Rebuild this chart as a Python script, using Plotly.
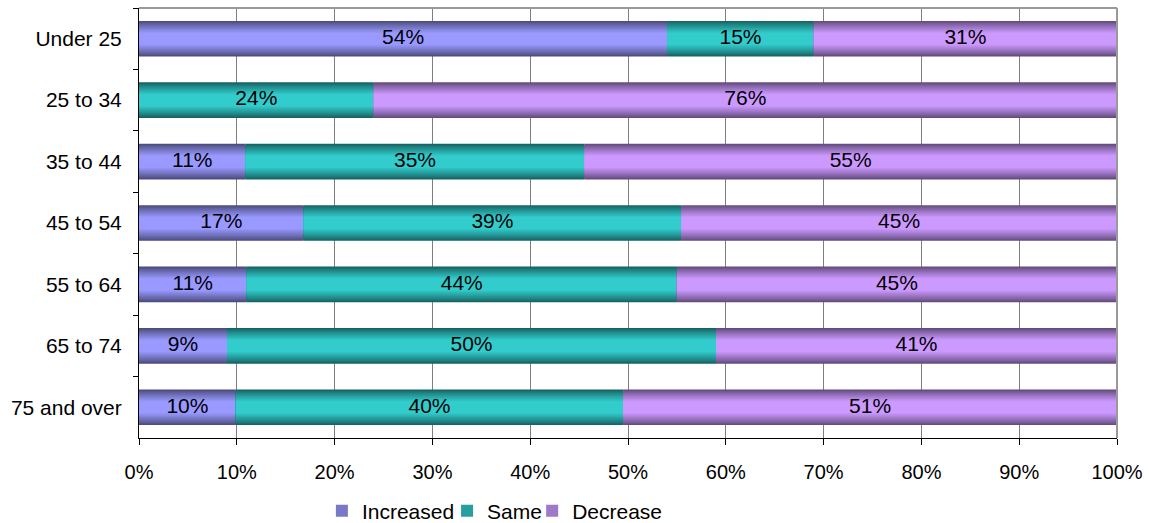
import plotly.graph_objects as go

# Survey responses by age group (percent of respondents)
age_groups = ["Under 25", "25 to 34", "35 to 44", "45 to 54", "55 to 64", "65 to 74", "75 and over"]
increased = [54, 0, 11, 17, 11, 9, 10]
same = [15, 24, 35, 39, 44, 50, 40]
decrease = [31, 76, 55, 45, 45, 41, 51]

series = [
    ("Increased", increased, "#4b4b7d", "#9999ff"),
    ("Same", same, "#176363", "#33cccc"),
    ("Decrease", decrease, "#634b7d", "#cc99ff"),
]
legend_ids = ["legend", "legend2", "legend3"]
legend_x = [0.187, 0.315, 0.402]

FONT = "Liberation Sans, Arial, sans-serif"
BAR_W = 0.58        # bar thickness in category units
CORE = 0.34         # fraction of thickness kept at the light colour
LAYERS = 14         # number of shading bands


def hex_to_rgb(h):
    h = h.lstrip("#")
    return tuple(int(h[i:i + 2], 16) for i in (0, 2, 4))


def mix(c0, c1, t):
    a, b = hex_to_rgb(c0), hex_to_rgb(c1)
    return "rgb(%d,%d,%d)" % tuple(round(a[i] + (b[i] - a[i]) * t) for i in range(3))


# 100% stacking: each row is normalised by its own total
totals = [sum(vals) for vals in zip(increased, same, decrease)]
fracs = {name: [v / t for v, t in zip(vals, totals)] for name, vals, _, _ in series}

fig = go.Figure()
label_x, label_y, label_t = [], [], []
base = [0.0] * len(age_groups)
for (name, vals, dark, light), lg in zip(series, legend_ids):
    f = fracs[name]
    # shaded cylinder look: stacked bands that narrow toward the light centre
    for k in range(LAYERS):
        t = k / (LAYERS - 1)
        w = BAR_W * (1 - (1 - CORE) * t)
        fig.add_trace(go.Bar(
            y=age_groups, x=f, base=base, orientation="h",
            width=[w] * len(age_groups),
            marker=dict(color=mix(dark, light, t ** 0.9), line=dict(width=0)),
            name=name, legendgroup=name, legend=lg,
            showlegend=(k == LAYERS // 2),
            hoverinfo="skip",
        ))
    for i, v in enumerate(vals):
        if v > 0:
            label_x.append(base[i] + f[i] / 2)
            label_y.append(age_groups[i])
            label_t.append(f"{v}%")
    base = [b + x for b, x in zip(base, f)]

fig.add_trace(go.Scatter(
    x=label_x, y=label_y, text=label_t, mode="text",
    textfont=dict(family=FONT, size=21, color="black"),
    showlegend=False, hoverinfo="skip",
))

legend_style = dict(
    orientation="h", xanchor="left", y=-0.17, yanchor="middle",
    font=dict(family=FONT, size=21), itemwidth=30, bgcolor="rgba(0,0,0,0)",
)

fig.update_layout(
    width=1149, height=523,
    margin=dict(l=139, r=32, t=8, b=85, autoexpand=False),
    barmode="overlay",
    paper_bgcolor="white", plot_bgcolor="white",
    font=dict(family=FONT, size=20, color="black"),
    showlegend=True,
    legend=dict(x=legend_x[0], **legend_style),
    legend2=dict(x=legend_x[1], **legend_style),
    legend3=dict(x=legend_x[2], **legend_style),
    xaxis=dict(
        range=[0, 1], dtick=0.1, tick0=0, tickformat=".0%",
        showgrid=True, gridcolor="#7f7f7f", gridwidth=1,
        showline=True, linecolor="black", linewidth=1,
        ticks="outside", ticklen=6, tickcolor="black",
        ticklabelstandoff=10, zeroline=False, fixedrange=True,
        automargin=False, tickfont=dict(size=20),
    ),
    yaxis=dict(
        categoryorder="array", categoryarray=age_groups, autorange="reversed",
        showgrid=False, showline=True, linecolor="black", linewidth=1,
        ticks="outside", ticklen=5, tickcolor="black", tickson="boundaries",
        ticklabelstandoff=12, zeroline=False, fixedrange=True,
        automargin=False, tickfont=dict(size=21),
    ),
    shapes=[
        dict(type="line", xref="paper", yref="paper", x0=0, x1=1, y0=1, y1=1,
             line=dict(color="#999999", width=2), layer="above"),
        dict(type="line", xref="paper", yref="paper", x0=1, x1=1, y0=0, y1=1,
             line=dict(color="#999999", width=2), layer="above"),
    ],
)

fig.write_html("out.html")
